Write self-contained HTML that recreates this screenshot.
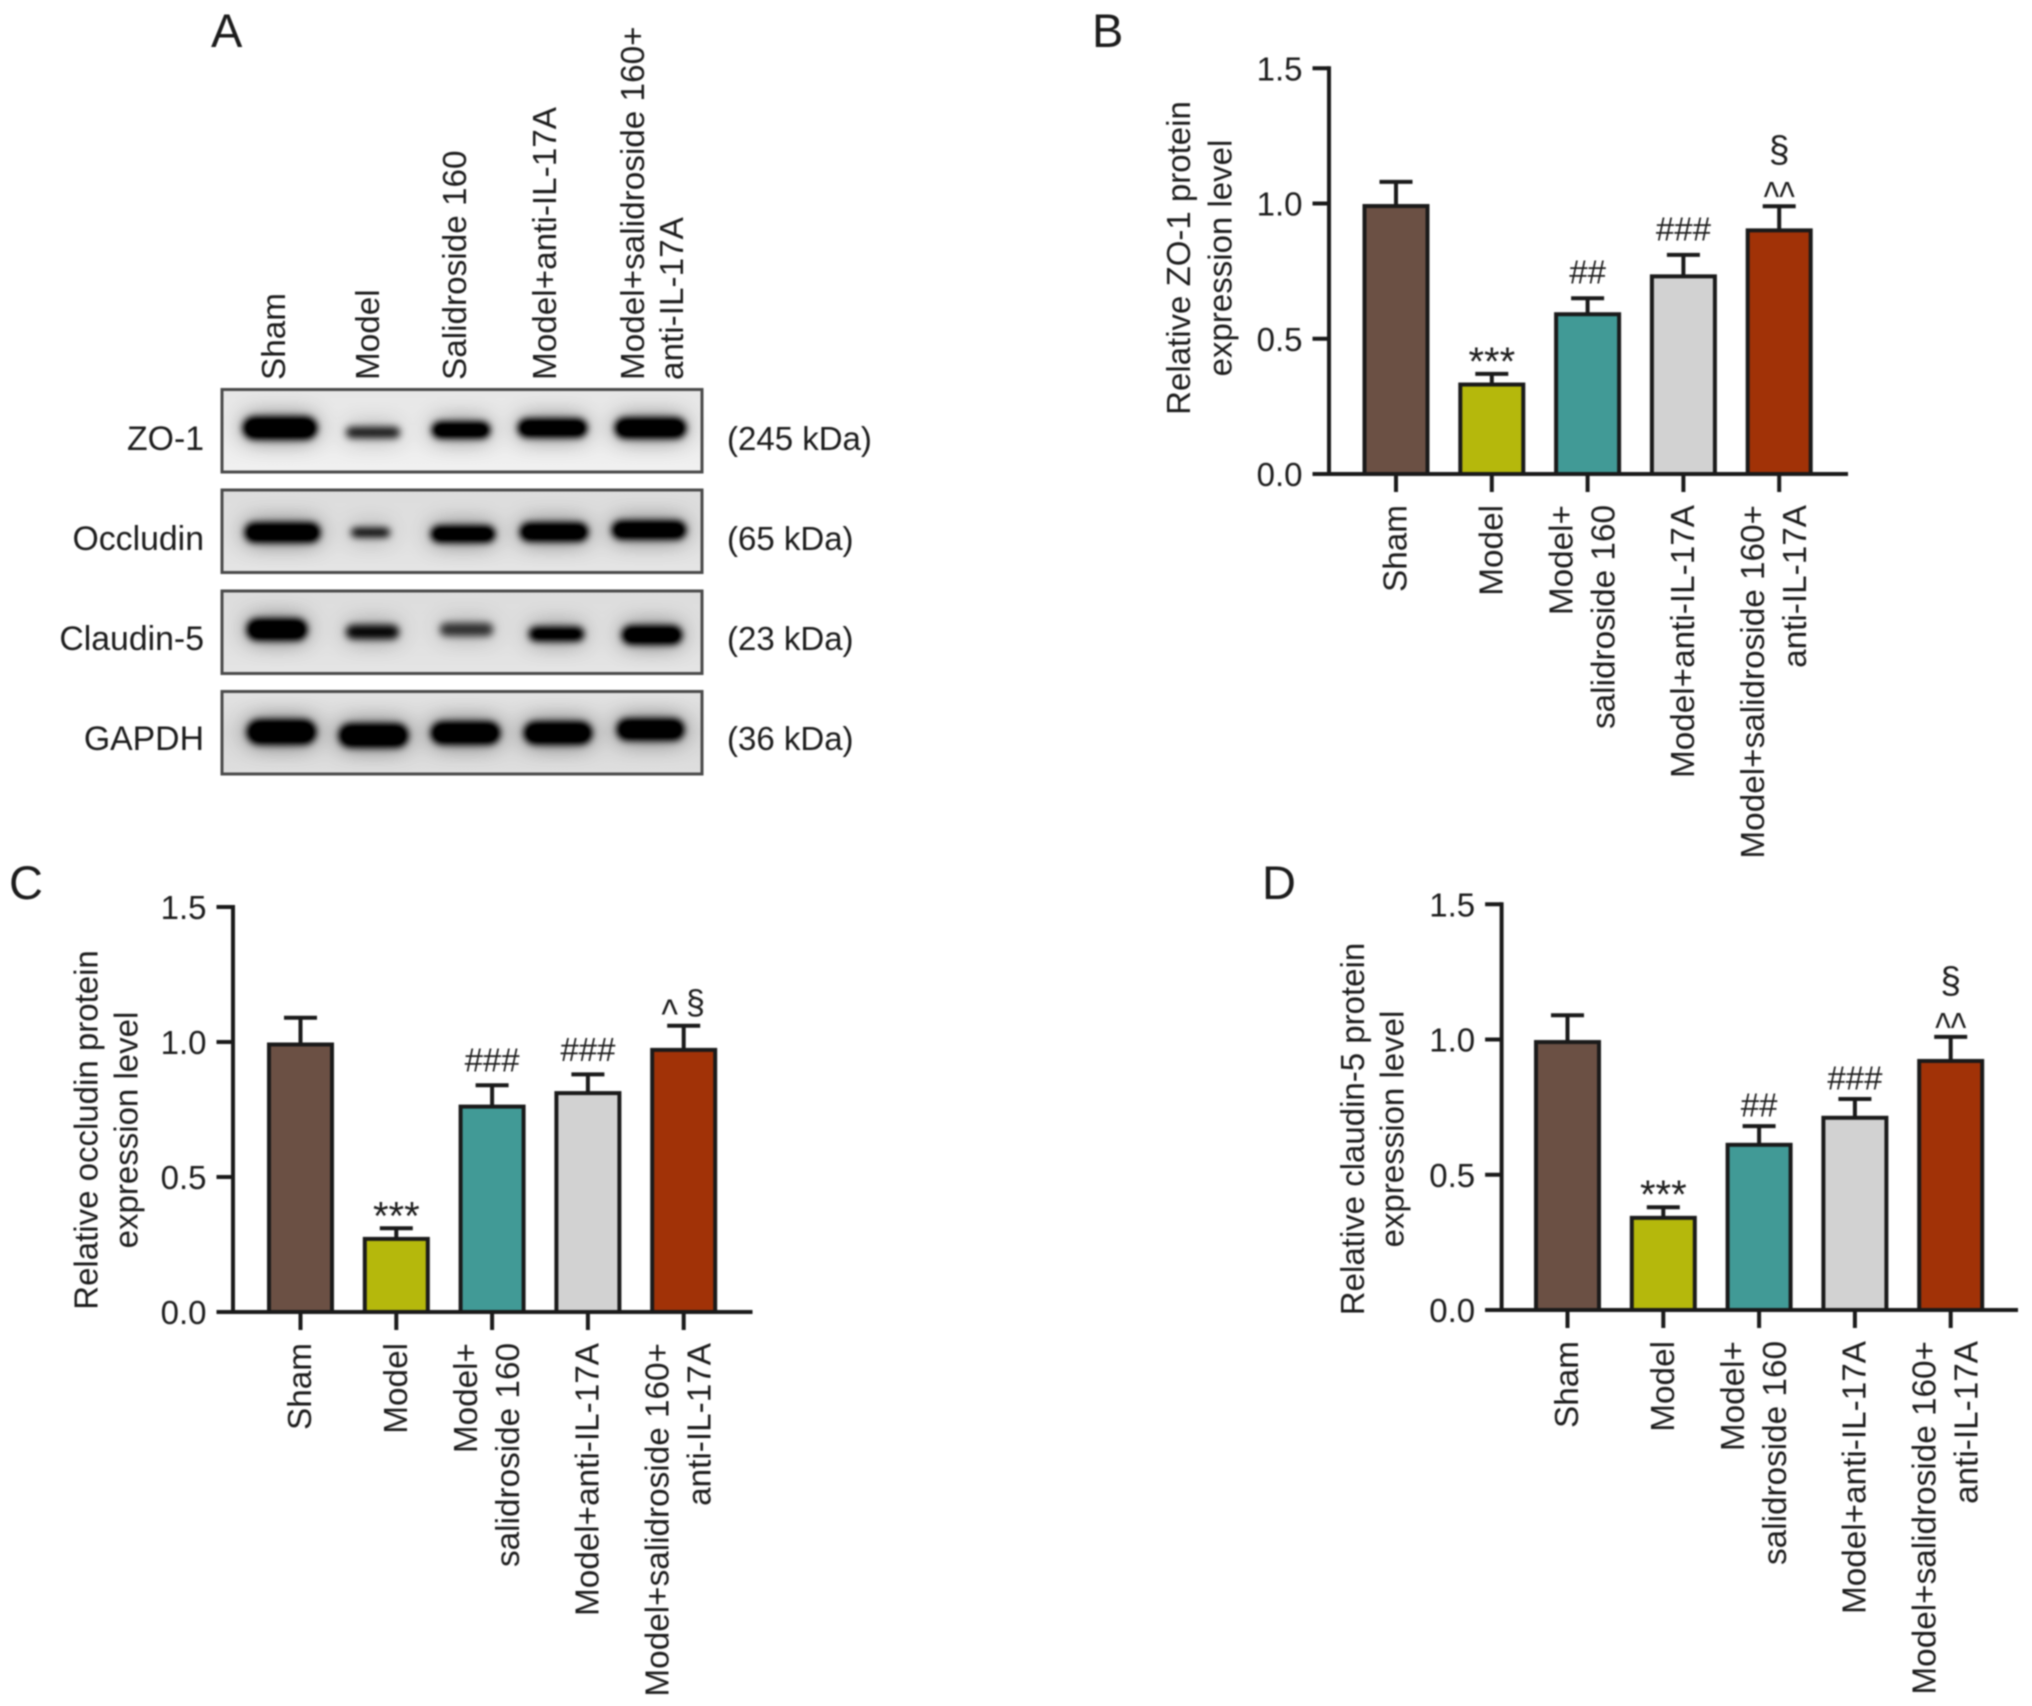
<!DOCTYPE html>
<html lang="en">
<head>
<meta charset="utf-8">
<title>Western blot and relative protein expression</title>
<style>
html,body{margin:0;padding:0;background:#fff;width:2032px;height:1706px;overflow:hidden}
svg{display:block;filter:blur(0.7px)}
text{font-family:"Liberation Sans",Arial,sans-serif;fill:#1c1c1c}
</style>
</head>
<body>
<svg id="figure" xmlns="http://www.w3.org/2000/svg" width="2032" height="1706" viewBox="0 0 2032 1706">
<defs>
<filter id="bandBlur" x="-40%" y="-200%" width="180%" height="500%">
<feGaussianBlur in="SourceGraphic" stdDeviation="12" result="wide"/>
<feComponentTransfer in="wide" result="halo"><feFuncA type="linear" slope="0.6"/></feComponentTransfer>
<feGaussianBlur in="SourceGraphic" stdDeviation="3.6" result="soft"/>
<feComponentTransfer in="soft" result="core"><feFuncA type="linear" slope="1.25"/></feComponentTransfer>
<feMerge><feMergeNode in="halo"/><feMergeNode in="core"/></feMerge>
</filter>
<linearGradient id="gelLight" x1="0" y1="0" x2="0" y2="1"><stop offset="0" stop-color="#e6e6e6"/><stop offset="0.5" stop-color="#ececec"/><stop offset="1" stop-color="#f0f0f0"/></linearGradient>
<linearGradient id="gelMid" x1="0" y1="0" x2="0" y2="1"><stop offset="0" stop-color="#dcdcdc"/><stop offset="1" stop-color="#e4e4e4"/></linearGradient>
<linearGradient id="gelDark" x1="0" y1="0" x2="0" y2="1"><stop offset="0" stop-color="#e2e2e2"/><stop offset="0.5" stop-color="#d8d8d8"/><stop offset="1" stop-color="#dedede"/></linearGradient>
</defs>
<rect width="2032" height="1706" fill="#fff"/>

<g font-size="47">
<text x="211" y="47">A</text>
<text x="1092" y="47">B</text>
<text x="9" y="899">C</text>
<text x="1262" y="899">D</text>
</g>

<g font-size="33.3">
<text transform="translate(285,380) rotate(-90)">Sham</text>
<text transform="translate(379,380) rotate(-90)">Model</text>
<text transform="translate(466,380) rotate(-90)">Salidroside 160</text>
<text transform="translate(556,380) rotate(-90)">Model+anti-IL-17A</text>
<text transform="translate(644,380) rotate(-90)">Model+salidroside 160+</text>
<text transform="translate(683,380) rotate(-90)">anti-IL-17A</text>
</g>

<g>
<rect x="222" y="389.5" width="480" height="82.5" fill="url(#gelLight)"/>
<g filter="url(#bandBlur)" fill="#000">
<rect x="243" y="417" width="74" height="22" rx="11"/>
<rect x="346" y="427" width="54" height="11" rx="5.5" opacity="0.72"/>
<rect x="432" y="422" width="58" height="16" rx="8"/>
<rect x="518" y="419" width="69" height="18" rx="9"/>
<rect x="615" y="418" width="71" height="20" rx="10"/>
</g>
<rect x="222" y="389.5" width="480" height="82.5" fill="none" stroke="#4a4a4a" stroke-width="3"/>
</g>
<g>
<rect x="222" y="490" width="480" height="82.5" fill="url(#gelMid)"/>
<g filter="url(#bandBlur)" fill="#000">
<rect x="245" y="523" width="75" height="19" rx="9"/>
<rect x="351" y="528" width="39" height="9" rx="4.5" opacity="0.82"/>
<rect x="431" y="526" width="64" height="16" rx="8"/>
<rect x="520" y="523" width="68" height="18" rx="9"/>
<rect x="612" y="521" width="74" height="18" rx="9"/>
</g>
<rect x="222" y="490" width="480" height="82.5" fill="none" stroke="#4a4a4a" stroke-width="3"/>
</g>
<g>
<rect x="222" y="591" width="480" height="82.5" fill="url(#gelMid)"/>
<g filter="url(#bandBlur)" fill="#000">
<rect x="247" y="619" width="60" height="21" rx="10"/>
<rect x="346" y="625" width="53" height="14" rx="7" opacity="0.8"/>
<rect x="440" y="623" width="53" height="13" rx="6" opacity="0.62"/>
<rect x="529" y="627" width="55" height="14" rx="7" opacity="0.92"/>
<rect x="622" y="626" width="60" height="18" rx="9"/>
</g>
<rect x="222" y="591" width="480" height="82.5" fill="none" stroke="#4a4a4a" stroke-width="3"/>
</g>
<g>
<rect x="222" y="691.5" width="480" height="82.5" fill="url(#gelDark)"/>
<g filter="url(#bandBlur)" fill="#000">
<rect x="247" y="720" width="69" height="24" rx="12"/>
<rect x="339" y="724" width="69" height="23" rx="11"/>
<rect x="431" y="722" width="69" height="22" rx="11"/>
<rect x="524" y="722" width="68" height="22" rx="11"/>
<rect x="617" y="719" width="67" height="21" rx="10"/>
</g>
<rect x="222" y="691.5" width="480" height="82.5" fill="none" stroke="#4a4a4a" stroke-width="3"/>
</g>

<g font-size="33.8" text-anchor="end">
<text x="204" y="450">ZO-1</text>
<text x="204" y="550">Occludin</text>
<text x="204" y="650">Claudin-5</text>
<text x="204" y="750">GAPDH</text>
</g>
<g font-size="33">
<text x="727" y="450">(245 kDa)</text>
<text x="727" y="550">(65 kDa)</text>
<text x="727" y="650">(23 kDa)</text>
<text x="727" y="750">(36 kDa)</text>
</g>
<g id="charts"></g>
</svg>

<script>
const categoryLabels = [["Sham"], ["Model"], ["Model+", "salidroside 160"], ["Model+anti-IL-17A"], ["Model+salidroside 160+", "anti-IL-17A"]];
const tickValues = [0, 0.5, 1, 1.5];
const tickLabels = ["0.0", "0.5", "1.0", "1.5"];
const barColors = ["#6b5044", "#b5b80c", "#419a96", "#d2d2d2", "#a13207"];

const zoValues = [1.0, 0.34, 0.60, 0.74, 0.91];
const zoErrorTops = [1.08, 0.37, 0.65, 0.81, 0.99];
const zoNotes = ["", "***", "##", "###", "^^§"];
const zoTitle = ["Relative ZO-1 protein", "expression level"];

const occludinValues = [1.0, 0.28, 0.77, 0.82, 0.98];
const occludinErrorTops = [1.09, 0.31, 0.84, 0.88, 1.06];
const occludinNotes = ["", "***", "###", "###", "^ §"];
const occludinTitle = ["Relative occludin protein", "expression level"];

const claudinValues = [1.0, 0.35, 0.62, 0.72, 0.93];
const claudinErrorTops = [1.09, 0.38, 0.68, 0.78, 1.01];
const claudinNotes = ["", "***", "##", "###", "^^§"];
const claudinTitle = ["Relative claudin-5 protein", "expression level"];

const layouts = [
  {key:"zo-1", values:zoValues, errs:zoErrorTops, notes:zoNotes, title:zoTitle, axisX:1329, y0:474, y15:68.3, first:1396, step:95.8, xEnd:1848, titleX:[1190,1231.5], titleY:258, hashGap:14.5},
  {key:"occludin", values:occludinValues, errs:occludinErrorTops, notes:occludinNotes, title:occludinTitle, axisX:233, y0:1312, y15:907, first:300.5, step:95.8, xEnd:752.5, titleX:[97.5,137.5], titleY:1130, hashGap:13.5},
  {key:"claudin-5", values:claudinValues, errs:claudinErrorTops, notes:claudinNotes, title:claudinTitle, axisX:1501.6, y0:1310, y15:904.3, first:1567.5, step:95.8, xEnd:2018, titleX:[1364,1403.6], titleY:1129, hashGap:9.5}
];

const NS = "http://www.w3.org/2000/svg";
const INK = "#1a1a1a";
const root = document.getElementById("charts");

function make(tag, attrs, parent, content) {
  const node = document.createElementNS(NS, tag);
  for (const k in attrs) node.setAttribute(k, attrs[k]);
  if (content !== undefined) node.textContent = content;
  parent.appendChild(node);
  return node;
}
function strokeLine(x1, y1, x2, y2, parent, w) {
  return make("line", {x1:x1, y1:y1, x2:x2, y2:y2, stroke:INK, "stroke-width":w || 4}, parent);
}

layouts.forEach(function (p) {
  const yScale = function (v) { return p.y0 + (p.y15 - p.y0) * v / 1.5; };
  const xScale = function (i) { return p.first + p.step * i; };

  const g = make("g", {}, root);
  
  

  p.title.forEach(function (line, i) {
    const t = make("text", {transform:"translate(" + p.titleX[i] + "," + p.titleY + ") rotate(-90)", "text-anchor":"middle", "font-size":33}, g, line);
    
    
  });

  p.values.forEach(function (v, i) {
    const cx = xScale(i);
    const capTop = yScale(p.errs[i]);
    const barTop = yScale(v) + 2.5;
    const stem = strokeLine(cx, barTop, cx, capTop, g);
    
    
    const cap = strokeLine(cx - 16.5, capTop, cx + 16.5, capTop, g);
    
    
    const bar = make("rect", {x:cx - 31.5, y:barTop, width:63, height:p.y0 - barTop, fill:barColors[i], stroke:INK, "stroke-width":4}, g);
    
    
    const xTick = strokeLine(cx, p.y0, cx, p.y0 + 18, g);
    
    

    const lines = categoryLabels[i];
    lines.forEach(function (line, j) {
      const off = lines.length === 1 ? 10.5 : (j === 0 ? -15 : 27);
      const lab = make("text", {transform:"translate(" + (cx + off) + "," + (p.y0 + 31) + ") rotate(-90)", "text-anchor":"end", "font-size":33.3}, g, line);
      
      
    });

    const note = p.notes[i];
    if (note === "***") {
      const s = make("text", {x:cx, y:capTop + 1, "text-anchor":"middle", "font-size":40}, g, note);
      
      
    } else if (note.charAt(0) === "#") {
      const h = make("text", {x:cx, y:capTop - p.hashGap, "text-anchor":"middle", "font-size":33}, g, note);
      
      
    } else if (note === "^^§") {
      const c = make("text", {transform:"translate(" + cx + "," + (capTop + 4.5) + ") scale(1,1.25)", "text-anchor":"middle", "font-size":33}, g, "^^");
      
      
      const m = make("text", {x:cx, y:capTop - 44, "text-anchor":"middle", "font-size":37}, g, "§");
      
      
    } else if (note === "^ §") {
      const c2 = make("text", {transform:"translate(" + (cx - 14) + "," + (capTop + 2) + ") scale(1,1.2)", "text-anchor":"middle", "font-size":35}, g, "^");
      
      
      const m2 = make("text", {x:cx + 11.7, y:capTop - 12, "text-anchor":"middle", "font-size":34}, g, "§");
      
      
    }
  });

  const yAxis = strokeLine(p.axisX, yScale(1.5) - 2, p.axisX, p.y0, g);
  
  
  const xAxis = strokeLine(p.axisX - 16.5, p.y0, p.xEnd, p.y0, g);
  
  

  tickValues.forEach(function (v, i) {
    const y = yScale(v);
    const tick = strokeLine(p.axisX - 16.5, y, p.axisX, y, g);
    
    
    const label = make("text", {x:p.axisX - 26.5, y:y + 12, "text-anchor":"end", "font-size":33}, g, tickLabels[i]);
    
    
  });
});
</script>
</body>
</html>
